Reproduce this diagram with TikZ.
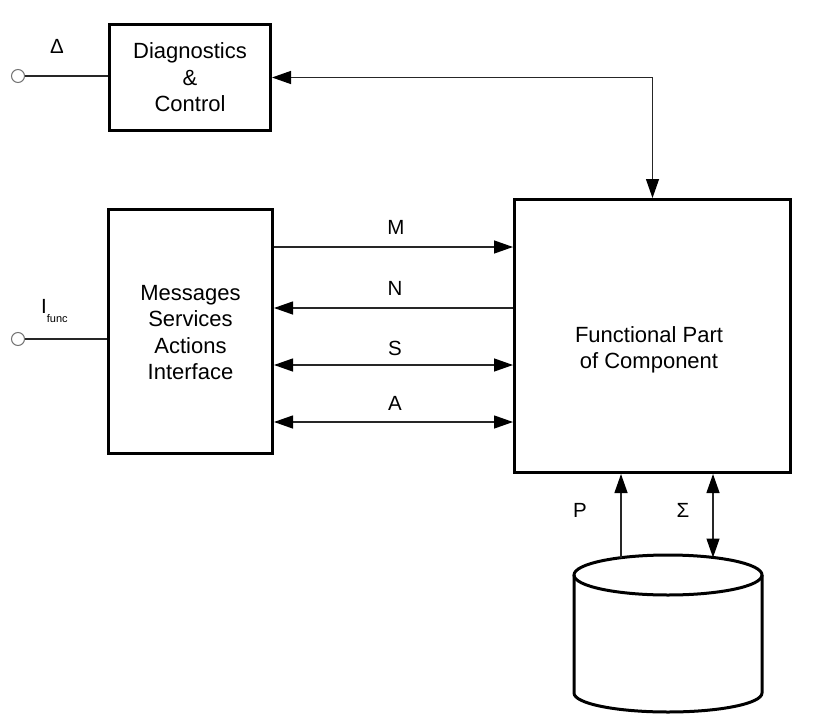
\documentclass[tikz,border=0pt]{standalone}
\usepackage{fontspec}
\setmainfont{Liberation Sans}
\usetikzlibrary{arrows.meta}
\begin{document}
\begin{tikzpicture}[x=1pt,y=-1pt,
  box/.style={draw, line width=3pt, rectangle, inner sep=0pt, align=center,
    font=\fontsize{22}{26.5}\selectfont},
  conn/.style={line width=1.3pt, draw=black!85},
  tip/.style={-{Triangle[length=19pt,width=13pt,fill=black,color=black]}},
  bitip/.style={{Triangle[length=19pt,width=13pt,fill=black,color=black]}-{Triangle[length=19pt,width=13pt,fill=black,color=black]}},
  lbl/.style={font=\fontsize{20.5}{24}\selectfont, inner sep=0pt},
  term/.style={circle, draw=black!55, line width=1pt, fill=white, minimum size=13pt, inner sep=0pt}]
\useasboundingbox[fill=white] (0,0) rectangle (814,728);

% boxes
\node[box, minimum width=161pt, minimum height=106pt] (diag) at (190,77.5) {Diagnostics\\\&\\Control};
\node[box, minimum width=164pt, minimum height=244pt] (msg) at (190.5,331.5) {};
\node[align=center, font=\fontsize{22}{26.5}\selectfont, inner sep=0pt] (msgtxt) at (190.5,332.5) {Messages\\Services\\Actions\\Interface};
\node[box, minimum width=276pt, minimum height=273pt] (func) at (652.5,336) {};
\node[align=center, font=\fontsize{22}{26.5}\selectfont, inner sep=0pt] (functxt) at (649,350) {Functional Part\\of Component};

% terminals
\node[term] (t1) at (18,76) {};
\node[term] (t2) at (18,339) {};
\draw[conn] (t1) -- (t1 -| diag.west);
\draw[conn] (t2) -- (t2 -| msg.west);
\node[lbl] (delta) at (57,46) {Δ};
\node[lbl, anchor=base west] (ifunc) at (41,313) {I{\fontsize{11}{13}\selectfont\raisebox{-9pt}{func}}};

% diag <-> func
\draw[conn, bitip] (diag.east) -| (func.north);

% message arrows
\draw[conn, tip] (msg.east |- 0,247) -- (func.west |- 0,247);
\draw[conn, tip] (func.west |- 0,308) -- (msg.east |- 0,308);
\draw[conn, bitip] (msg.east |- 0,365) -- (func.west |- 0,365);
\draw[conn, bitip] (msg.east |- 0,422) -- (func.west |- 0,422);
\node[lbl] (lM) at (396,227) {M};
\node[lbl] (lN) at (395,288) {N};
\node[lbl] (lS) at (395,348) {S};
\node[lbl] (lA) at (395,403) {A};

% cylinder
\draw[line width=3pt] (668,575) ellipse [x radius=94, y radius=20];
\draw[line width=3pt] (574,575) -- (574,693) arc [start angle=180, end angle=0, x radius=94, y radius=19] -- (762,575);
\coordinate (cylP) at (621,557.5);
\coordinate (cylS) at (713,557.5);

\draw[conn, tip] (cylP) -- (func.south -| cylP);
\draw[conn, bitip] (func.south -| cylS) -- (cylS);
\node[lbl] (lP) at (580,510) {P};
\node[lbl] (lSig) at (683,510) {Σ};
\end{tikzpicture}
\end{document}
